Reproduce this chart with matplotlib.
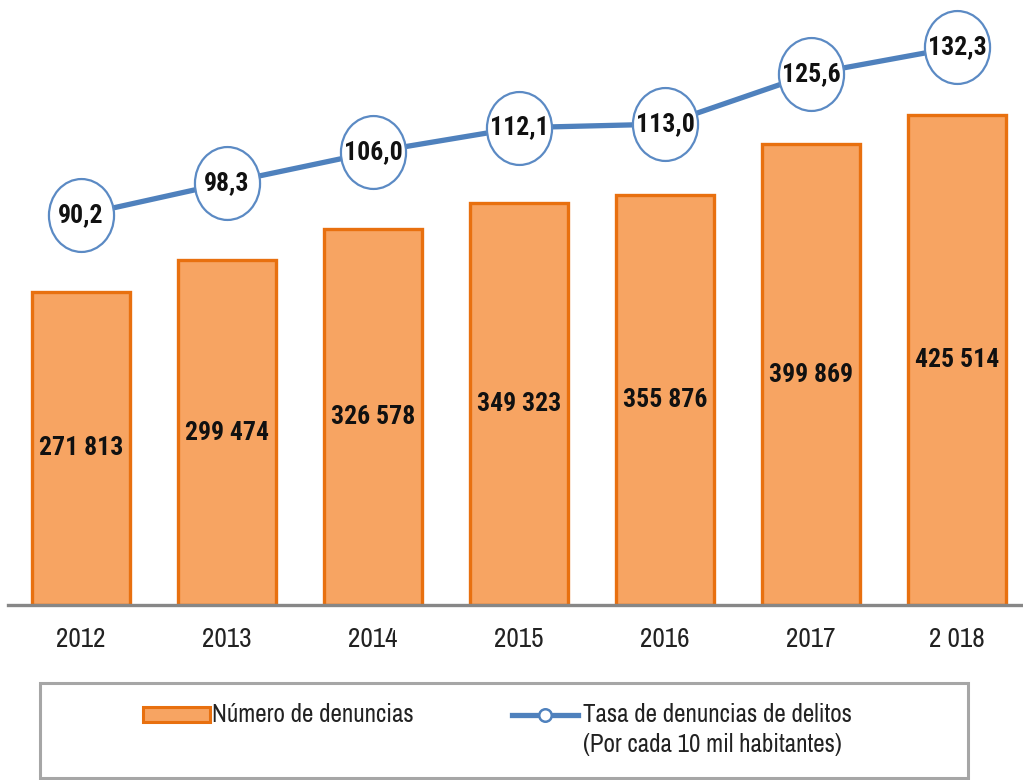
import matplotlib
matplotlib.use('Agg')
import matplotlib.pyplot as plt
from matplotlib.path import Path
from matplotlib.transforms import Affine2D
from matplotlib.patches import Rectangle
from matplotlib.lines import Line2D

years = ['2012', '2013', '2014', '2015', '2016', '2017', '2 018']
denuncias = [271813, 299474, 326578, 349323, 355876, 399869, 425514]
tasa = [90.2, 98.3, 106.0, 112.1, 113.0, 125.6, 132.3]
legend_labels = ['Número de denuncias', 'Tasa de denuncias de delitos', '(Por cada 10 mil habitantes)']

REG = ['Archivo Narrow', 'DejaVu Sans']
BOLD = ['Roboto Condensed', 'DejaVu Sans']
plt.rcParams['font.family'] = REG

BAR_FACE = '#f7a462'
BAR_EDGE = '#e8700f'
LINE_C = '#4f81bd'
CIRC_EDGE = '#5b8ac4'

W, H = 1023, 780
fig = plt.figure(figsize=(W / 100, H / 100), dpi=100)

def fx(px):
    return px / W

def fy(py):
    return (H - py) / H

ax = fig.add_axes([fx(8), fy(605), fx(1023 - 8), 605 / H])
x = list(range(len(years)))
ax.bar(x, denuncias, width=0.67, color=BAR_FACE, edgecolor=BAR_EDGE, linewidth=2.4, zorder=2)
ax.set_xlim(-0.5, 6.45)
ax.set_ylim(0, 525200)
for xi, v in zip(x, denuncias):
    ax.text(xi, v / 2, f"{v:,}".replace(',', ' '), ha='center', va='center',
            fontsize=18.5, fontweight='bold', family=BOLD, color='#111111')
for s in ['top', 'left', 'right']:
    ax.spines[s].set_visible(False)
ax.spines['bottom'].set_color('#878787')
ax.spines['bottom'].set_linewidth(2.4)
ax.set_yticks([])
ax.set_xticks(x, years)
ax.tick_params(axis='x', length=0, pad=16, labelsize=19.5, labelcolor='#222222')

ax2 = ax.twinx()
ax2.set_ylim(-7.55, 144.1)
ax2.set_yticks([])
for s in ['top', 'left', 'right', 'bottom']:
    ax2.spines[s].set_visible(False)

ell = Path.unit_circle().transformed(Affine2D().scale(1.0, 1.12))
ax2.plot(x, tasa, color=LINE_C, linewidth=3.8, marker=ell, markersize=52.5,
         markerfacecolor='white', markeredgecolor=CIRC_EDGE, markeredgewidth=1.6,
         clip_on=False, zorder=3)
for xi, v in zip(x, tasa):
    ax2.text(xi, v, f"{v:.1f}".replace('.', ','), ha='center', va='center',
             fontsize=18.5, fontweight='bold', family=BOLD, color='#111111', zorder=4, clip_on=False)

# legend
fig.patches.append(Rectangle((fx(40), fy(778)), fx(928), 95 / H, transform=fig.transFigure,
                             facecolor='white', edgecolor='#a6a6a6', linewidth=2.2, zorder=0))
fig.patches.append(Rectangle((fx(143), fy(722)), fx(67), 15 / H, transform=fig.transFigure,
                             facecolor=BAR_FACE, edgecolor=BAR_EDGE, linewidth=2.2, zorder=1))
fig.text(fx(212), fy(714), legend_labels[0], ha='left', va='center', fontsize=18, color='#222222')
fig.lines.append(Line2D([fx(512), fx(578)], [fy(715), fy(715)], transform=fig.transFigure,
                        color=LINE_C, linewidth=3.8))
fig.lines.append(Line2D([fx(545)], [fy(715)], transform=fig.transFigure, marker='o',
                        markersize=9, markerfacecolor='white', markeredgecolor=LINE_C,
                        markeredgewidth=1.8, linestyle='none'))
fig.text(fx(583), fy(714), legend_labels[1], ha='left', va='center', fontsize=18, color='#222222')
fig.text(fx(583), fy(745), legend_labels[2], ha='left', va='center', fontsize=18, color='#222222')

fig.savefig('out.png', dpi=100)
